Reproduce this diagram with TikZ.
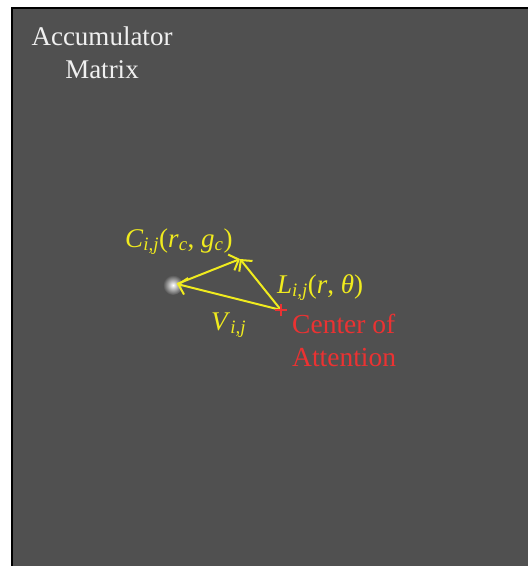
\documentclass[tikz,border=0pt]{standalone}
\usepackage{fontspec}
\setmainfont{Liberation Serif}
\usetikzlibrary{arrows.meta, calc}
\definecolor{accbg}{RGB}{80,80,80}
\definecolor{voteyellow}{RGB}{240,235,30}
\definecolor{coared}{RGB}{235,50,50}
\tikzset{
  vecarrow/.style={voteyellow, line width=2pt, -{Straight Barb[length=8pt,width=17pt,line width=2pt]}},
  veclabel/.style={voteyellow, font=\fontsize{27}{32}\selectfont, inner sep=0pt},
  titlelabel/.style={white!94!black, font=\fontsize{27}{32}\selectfont, inner sep=0pt, anchor=base},
  coalabel/.style={coared, font=\fontsize{27.5}{32}\selectfont, inner sep=0pt, anchor=base west}
}
\newcommand{\idxij}{\textsubscript{\textit{i,j}}}
\begin{document}
\begin{tikzpicture}[x=1pt, y=-1pt]
  \useasboundingbox (0,0) rectangle (528,566);
  % accumulator panel, black edge only at left and top
  \fill[accbg] (12,8) rectangle (528,566);
  \draw[black, line width=2pt] (12,566) -- (12,8) -- (528,8);
  % title
  \node[titlelabel] (title1) at (102,45) {Accumulator};
  \node[titlelabel] (title2) at (102,78) {Matrix};
  % points: vote (blob), apex of triangle, center of attention
  \coordinate (vote) at (177,284);
  \coordinate (apex) at (240,259);
  \coordinate (coa) at (281,310);
  % glowing vote
  \shade[inner color=white, outer color=accbg] (173,285) circle (10);
  % vectors
  \draw[vecarrow] (coa) -- (vote);
  \draw[vecarrow] (coa) -- (apex);
  \draw[vecarrow] (vote) -- (apex);
  % red cross at center of attention
  \draw[coared, line width=1.8pt] ($(coa)+(-6,0)$) -- ($(coa)+(6,0)$);
  \draw[coared, line width=1.8pt] ($(coa)+(0,-6)$) -- ($(coa)+(0,6)$);
  % labels
  \node[veclabel, anchor=base west] (clabel) at (125,247) {\textit{C}\idxij(\textit{r}\textsubscript{\textit{c}}, \textit{g}\textsubscript{\textit{c}})};
  \node[veclabel, anchor=base west] (llabel) at (277,293) {\textit{L}\idxij(\textit{r}, \textit{θ})};
  \node[veclabel, anchor=base west] (vlabel) at (211,330) {\textit{V}\idxij};
  \node[coalabel] (coa1) at (292,333) {Center of};
  \node[coalabel] (coa2) at (292,366) {Attention};
\end{tikzpicture}
\end{document}
